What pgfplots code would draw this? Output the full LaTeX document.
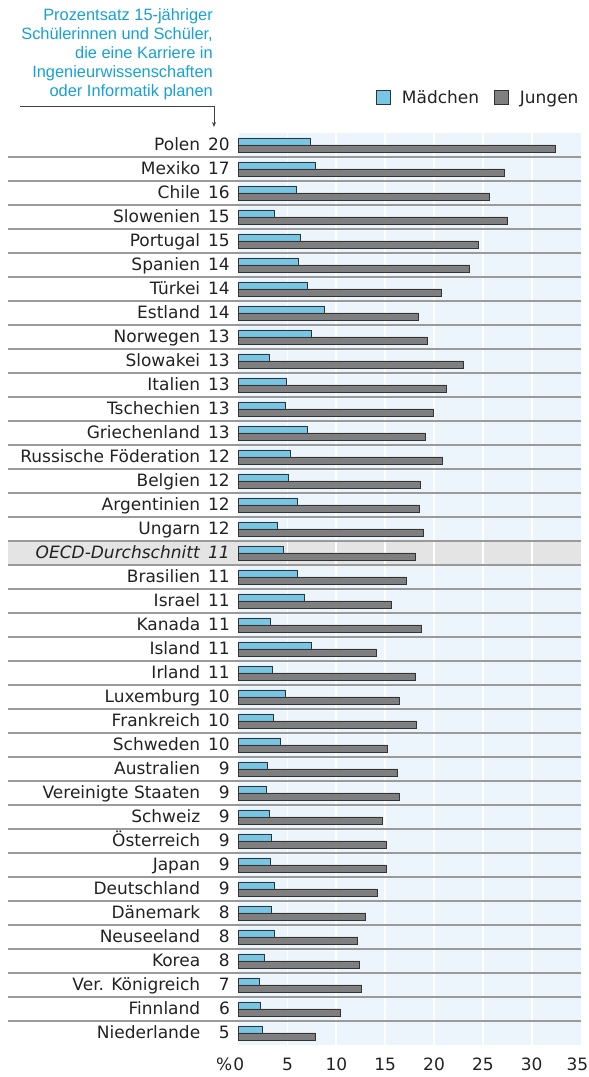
\documentclass[border=0pt]{standalone}
\usepackage{fontspec}
\setmainfont{DejaVu Sans}
\newfontfamily\hdrfont{Liberation Sans}
\usepackage{pgfplots}
\pgfplotsset{compat=1.18}
\usepackage{pgfplotstable}
\usetikzlibrary{arrows.meta}
\definecolor{bgblue}{HTML}{EDF5FC}
\definecolor{mblue}{HTML}{78C6E6}
\definecolor{jgray}{HTML}{7F7F7F}
\definecolor{bardraw}{HTML}{333333}
\definecolor{oecdgray}{HTML}{E4E4E4}
\definecolor{sepgray}{HTML}{9A9A9A}
\definecolor{hdrblue}{HTML}{16A0D7}
\definecolor{txt}{HTML}{222222}
\pgfplotsset{sqlegend/.style={legend image code/.code={\draw[##1] (0pt,-7pt) rectangle (14pt,7pt);}}}

\pgfplotstableread{
i m j
0 7.3 32.4
1 7.8 27.2
2 5.9 25.7
3 3.6 27.5
4 6.3 24.5
5 6.1 23.6
6 7.0 20.8
7 8.8 18.4
8 7.4 19.3
9 3.1 23.0
10 4.9 21.3
11 4.8 19.9
12 7.0 19.1
13 5.3 20.9
14 5.1 18.6
15 6.0 18.5
16 4.0 18.9
17 4.6 18.1
18 6.0 17.2
19 6.7 15.6
20 3.2 18.7
21 7.4 14.1
22 3.4 18.1
23 4.8 16.4
24 3.5 18.2
25 4.3 15.2
26 2.9 16.2
27 2.8 16.4
28 3.1 14.7
29 3.3 15.1
30 3.2 15.1
31 3.6 14.2
32 3.3 13.0
33 3.7 12.2
34 2.6 12.4
35 2.1 12.6
36 2.2 10.4
37 2.4 7.8
}\data

\newcommand{\rl}[2]{#1\hspace{8pt}\makebox[21.6pt][r]{#2}}

\begin{document}
\begin{tikzpicture}
\begin{axis}[
  set layers,
  at={(238.7pt,32pt)}, anchor=south west,
  scale only axis, width=341.8pt, height=912pt,
  xmin=0, xmax=35, ymin=-0.5, ymax=37.5, y dir=reverse,
  axis line style={draw=none}, major tick length=0pt,
  clip=false,
  axis background/.style={fill=bgblue},
  xtick={0,5,...,35},
  xticklabels={\llap{\%\hspace{1pt}}0,5,10,15,20,25,30,\makebox[0pt]{\hspace{-6pt}35}},
  ytick={0,...,37},
  yticklabels={{\rl{Polen}{20}},{\rl{Mexiko}{17}},{\rl{Chile}{16}},{\rl{Slowenien}{15}},{\rl{Portugal}{15}},{\rl{Spanien}{14}},{\rl{Türkei}{14}},{\rl{Estland}{14}},{\rl{Norwegen}{13}},{\rl{Slowakei}{13}},{\rl{Italien}{13}},{\rl{Tschechien}{13}},{\rl{Griechenland}{13}},{\rl{Russische Föderation}{12}},{\rl{Belgien}{12}},{\rl{Argentinien}{12}},{\rl{Ungarn}{12}},{\rl{\textit{OECD-Durchschnitt}}{\textit{11}}},{\rl{Brasilien}{11}},{\rl{Israel}{11}},{\rl{Kanada}{11}},{\rl{Island}{11}},{\rl{Irland}{11}},{\rl{Luxemburg}{10}},{\rl{Frankreich}{10}},{\rl{Schweden}{10}},{\rl{Australien}{9}},{\rl{Vereinigte Staaten}{9}},{\rl{Schweiz}{9}},{\rl{Österreich}{9}},{\rl{Japan}{9}},{\rl{Deutschland}{9}},{\rl{Dänemark}{8}},{\rl{Neuseeland}{8}},{\rl{Korea}{8}},{\rl{Ver. Königreich}{7}},{\rl{Finnland}{6}},{\rl{Niederlande}{5}}},
  ticklabel style={font=\fontsize{17}{20}\selectfont, text=txt, inner sep=0pt},
  yticklabel style={anchor=base east, xshift=-8.7pt, yshift=-5.7pt},
  xticklabel style={anchor=base, yshift=-26pt},
  legend columns=2,
  legend style={draw=none, fill=none, inner sep=0pt, outer sep=0pt,
    at={(axis description cs:1,1)}, anchor=south east, xshift=0pt, yshift=26pt,
    font=\fontsize{17}{20}\selectfont, text=txt,
    /tikz/every odd column/.append style={column sep=9pt},
    /tikz/every even column/.append style={column sep=13pt}},
  legend cell align=left,
]
\begin{pgfonlayer}{axis background}
\fill[oecdgray] (axis cs:-23.6,16.5) rectangle (axis cs:35,17.5);
\pgfplotsinvokeforeach{5,10,15,20,25,30}{\draw[white, line width=1.8pt] (axis cs:#1,-0.5) -- (axis cs:#1,37.5);}
\pgfplotsinvokeforeach{0.5,1.5,...,36.5}{\draw[sepgray, line width=1.1pt] (axis cs:-23.6,#1) -- (axis cs:35,#1);}
\end{pgfonlayer}
\addplot[xbar, bar width=7pt, bar shift=3.5pt, fill=mblue, draw=bardraw, line width=0.7pt, sqlegend]
  table[x=m, y=i] {\data};
\addplot[xbar, bar width=7pt, bar shift=-3.5pt, fill=jgray, draw=bardraw, line width=0.7pt, sqlegend]
  table[x=j, y=i] {\data};
\legend{Mädchen, Jungen}
\end{axis}
\node[anchor=north east, align=right, inner sep=0pt, text=hdrblue,
  font=\hdrfont\fontsize{16.4}{19}\selectfont] at (213pt,1068.7pt)
  {Prozentsatz 15-jähriger\\Schülerinnen und Schüler,\\die eine Karriere in\\Ingenieurwissenschaften\\oder Informatik planen};
\draw[black!75, line width=0.9pt, -{Stealth[length=5pt,width=4pt]}] (20pt,971pt) -- (214pt,971pt) -- (214pt,950pt);
\pgfresetboundingbox
\path[use as bounding box] (0pt,0pt) rectangle (589pt,1077pt);
\end{tikzpicture}
\end{document}
